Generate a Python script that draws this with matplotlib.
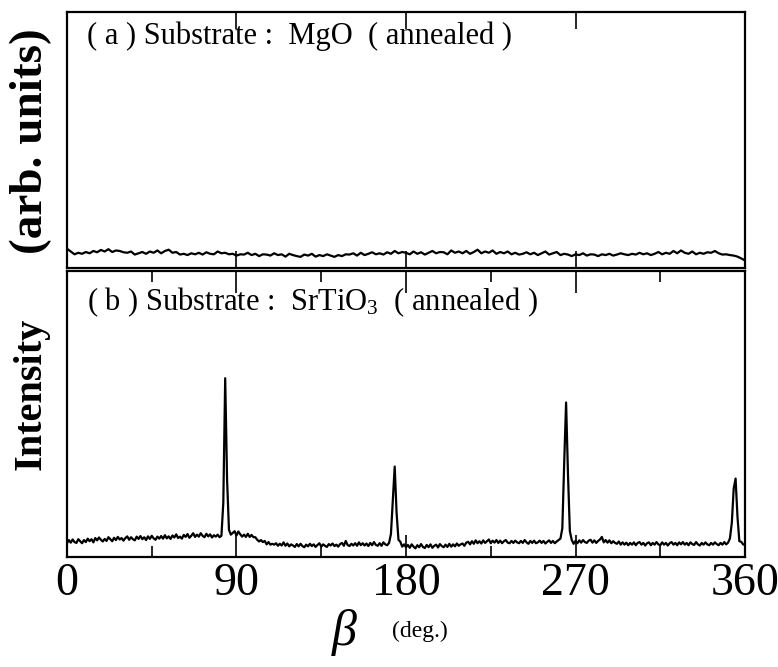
import numpy as np
import matplotlib
matplotlib.use("Agg")
import matplotlib.pyplot as plt
from matplotlib.ticker import MultipleLocator

plt.rcParams['font.family'] = ['Liberation Serif', 'DejaVu Serif']
plt.rcParams['mathtext.fontset'] = 'custom'
plt.rcParams['mathtext.rm'] = 'Liberation Serif'
plt.rcParams['mathtext.it'] = 'Liberation Serif:italic'

# ---- data -------------------------------------------------------------
# (a) MgO substrate: phi-scan sampled every 2 degrees (relative intensity, %)
beta_a = np.arange(0, 361, 2)
intensity_a = [
    7.6, 6.5, 5.4, 6.0, 5.6, 6.3, 5.8, 6.7, 6.2, 7.1, 6.5, 7.4, 6.3, 6.9, 6.7,
    6.2, 6.0, 6.5, 5.3, 5.8, 6.3, 5.6, 6.5, 6.0, 6.9, 5.8, 6.7, 7.2, 6.0, 6.3,
    5.3, 5.6, 5.1, 5.8, 5.4, 6.0, 5.3, 6.2, 5.6, 5.4, 6.5, 5.8, 6.0, 5.4, 5.6,
    4.9, 5.4, 5.3, 6.0, 5.1, 5.6, 4.7, 5.4, 5.3, 4.9, 5.8, 5.1, 5.4, 4.5, 5.6,
    5.1, 4.7, 4.4, 5.3, 4.9, 5.6, 4.5, 5.1, 4.7, 5.4, 4.9, 4.4, 5.1, 4.7, 5.4,
    5.3, 5.8, 4.9, 6.0, 5.1, 5.6, 6.2, 5.4, 5.8, 5.3, 6.2, 5.6, 6.7, 5.8, 6.3,
    6.0, 5.4, 6.5, 5.6, 6.2, 5.3, 6.0, 6.7, 5.8, 6.3, 6.2, 5.4, 6.9, 6.0, 6.5,
    5.8, 6.7, 5.6, 6.3, 7.2, 5.8, 6.5, 6.0, 6.9, 5.6, 6.3, 5.8, 6.5, 5.4, 6.0,
    5.3, 5.6, 6.2, 5.4, 6.0, 5.1, 5.8, 6.5, 5.3, 5.8, 6.3, 5.1, 5.6, 5.3, 4.7,
    5.4, 5.1, 5.8, 4.9, 5.4, 5.3, 4.7, 5.4, 5.1, 5.6, 4.9, 5.3, 5.8, 5.4, 5.1,
    5.6, 5.3, 6.0, 5.4, 5.8, 5.1, 5.6, 6.3, 5.4, 6.0, 5.6, 6.7, 5.8, 6.9, 6.0,
    5.6, 6.5, 5.4, 6.0, 5.6, 6.2, 6.0, 6.7, 5.8, 5.3, 5.4, 5.1, 4.9, 4.5, 3.8,
    3.0,
]

# (b) SrTiO3 substrate: phi-scan sampled every degree (relative intensity, %)
beta_b = np.arange(0, 361, 1)
intensity_b = [
    4.8, 5.9, 5.0, 6.1, 5.2, 4.9, 6.2, 5.5, 4.8, 5.9,
    5.2, 6.4, 5.5, 6.2, 5.1, 6.6, 5.8, 6.8, 6.0, 5.4,
    6.3, 5.6, 6.9, 6.2, 5.5, 6.7, 5.9, 7.0, 6.1, 6.6,
    5.7, 6.6, 7.2, 6.0, 6.9, 6.2, 5.8, 7.1, 6.3, 7.3,
    6.2, 6.9, 5.9, 7.2, 6.3, 7.4, 6.5, 6.0, 7.1, 6.4,
    7.3, 6.4, 7.6, 6.5, 7.2, 6.3, 7.5, 6.8, 7.9, 6.6,
    7.1, 6.4, 7.7, 7.0, 8.0, 6.7, 7.4, 8.3, 7.0, 7.8,
    7.1, 8.3, 7.4, 6.9, 8.1, 7.2, 7.9, 6.8, 7.6, 7.1,
    7.8, 6.9, 7.4, 19.0, 62.5, 27.0, 9.5, 7.8, 8.4, 9.0,
    7.5, 8.9, 7.9, 7.1, 7.8, 7.0, 8.1, 7.0, 7.7, 6.9,
    6.9, 6.0, 5.4, 5.9, 5.2, 5.6, 4.4, 5.2, 4.3, 4.6,
    4.3, 4.8, 3.9, 4.6, 4.0, 5.1, 3.9, 4.7, 3.7, 4.4,
    4.0, 3.5, 4.5, 3.7, 4.6, 3.8, 3.4, 4.3, 3.7, 4.6,
    3.8, 4.4, 3.5, 4.2, 4.8, 3.6, 4.4, 3.9, 3.5, 4.5,
    4.0, 4.7, 3.8, 4.3, 3.6, 4.5, 4.9, 3.9, 5.6, 4.2,
    3.8, 4.6, 4.0, 4.8, 3.9, 5.1, 4.1, 4.8, 4.0, 4.7,
    3.8, 4.9, 4.1, 5.2, 4.2, 3.9, 4.8, 3.9, 5.1, 4.4,
    4.1, 4.9, 8.0, 20.0, 31.6, 15.5, 6.0, 5.3, 3.6, 4.4,
    3.4, 4.2, 3.2, 4.4, 3.6, 3.0, 4.1, 3.4, 4.5, 3.5,
    3.1, 4.2, 3.4, 4.4, 3.2, 3.9, 4.3, 3.3, 4.5, 3.8,
    3.4, 4.3, 3.5, 4.6, 3.6, 4.4, 3.7, 4.7, 3.9, 4.4,
    4.7, 3.9, 5.0, 5.3, 4.4, 5.5, 4.6, 5.8, 4.8, 5.5,
    4.7, 5.8, 4.9, 5.5, 6.1, 4.8, 5.7, 5.0, 5.9, 4.9,
    5.7, 4.8, 5.5, 5.9, 5.0, 4.8, 5.6, 4.9, 5.7, 5.1,
    4.8, 5.6, 4.9, 5.9, 5.1, 4.6, 5.6, 4.9, 5.7, 4.8,
    5.1, 5.7, 4.9, 5.6, 4.7, 5.3, 5.8, 4.9, 5.6, 4.8,
    5.4, 5.9, 6.4, 10.0, 33.0, 54.0, 29.0, 9.0, 5.9, 4.6,
    5.6, 4.8, 5.8, 5.0, 5.9, 5.2, 4.9, 5.7, 6.0, 5.0,
    5.8, 4.9, 5.6, 6.1, 7.0, 5.1, 5.9, 5.0, 5.8, 4.8,
    5.5, 4.9, 4.6, 5.4, 4.3, 5.1, 4.3, 5.0, 4.1, 4.9,
    4.3, 5.1, 4.1, 4.9, 5.2, 4.3, 4.9, 4.0, 4.8, 5.1,
    4.1, 4.9, 4.3, 5.2, 4.4, 4.1, 5.1, 4.3, 4.9, 4.0,
    4.8, 5.2, 4.3, 4.9, 4.1, 5.1, 4.4, 5.2, 4.3, 4.9,
    4.1, 5.1, 4.5, 4.2, 5.2, 4.4, 4.0, 4.9, 4.3, 5.1,
    4.4, 4.1, 4.9, 4.3, 5.1, 4.5, 4.1, 4.9, 4.3, 5.2,
    4.4, 5.0, 6.5, 12.0, 24.0, 27.4, 14.0, 5.5, 5.3, 4.4,
    4.2,
]

xticks = [0, 90, 180, 270, 360]
xtick_labels = ["0", "90", "180", "270", "360"]
label_a = "( a ) Substrate :  MgO  ( annealed )"
label_b = "( b ) Substrate :  SrTiO$_3$  ( annealed )"

# ---- figure -----------------------------------------------------------
fig = plt.figure(figsize=(7.78, 6.67), dpi=100)
ax_a = fig.add_axes([0.0861, 0.598, 0.8715, 0.3838])
ax_b = fig.add_axes([0.0861, 0.165, 0.8715, 0.4288])

for ax in (ax_a, ax_b):
    ax.set_xlim(0, 360)
    ax.set_ylim(0, 100)
    ax.set_yticks([])
    for sp in ax.spines.values():
        sp.set_linewidth(1.6)
    ax.xaxis.set_major_locator(MultipleLocator(90))
    ax.tick_params(axis='x', which='major', direction='in', top=True,
                   bottom=True, length=12, width=1.2)

ax_a.plot(beta_a, intensity_a, color='black', lw=1.6)
ax_b.plot(beta_b, intensity_b, color='black', lw=1.6)

ax_a.tick_params(axis='x', labelbottom=False)
ax_b.xaxis.set_minor_locator(MultipleLocator(45))
ax_b.tick_params(axis='x', which='major', length=16)
ax_b.tick_params(axis='x', which='minor', direction='in', top=True,
                 bottom=True, length=8, width=1.2)
ax_b.set_xticks(xticks)
ax_b.set_xticklabels(xtick_labels, fontsize=33)
ax_b.tick_params(axis='x', which='major', pad=4)

ax_a.text(0.03, 0.965, label_a, transform=ax_a.transAxes, fontsize=22,
          ha='left', va='top')
ax_b.text(0.03, 0.95, label_b, transform=ax_b.transAxes, fontsize=22,
          ha='left', va='top')

fig.text(0.040, 0.409, "Intensity", rotation=90, fontsize=29,
         fontweight='bold', ha='center', va='center')
fig.text(0.040, 0.789, "(arb. units)", rotation=90, fontsize=34,
         fontweight='bold', ha='center', va='center')

fig.text(0.443, 0.052, r"$\beta$", fontsize=36, ha='center', va='center')
fig.text(0.54, 0.054, "(deg.)", fontsize=17, ha='center', va='center')

fig.savefig("out.png", dpi=100)
